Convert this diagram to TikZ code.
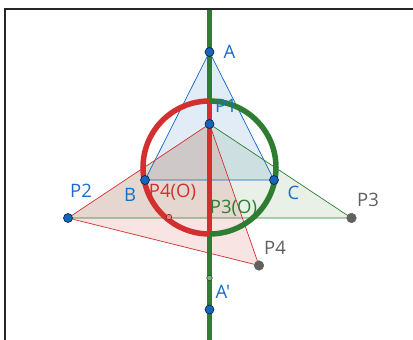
\documentclass[tikz,border=0pt]{standalone}
\usepackage{fontspec}
\setmainfont{Open Sans}
\newfontfamily\lblfont{Open Sans}
\definecolor{gblue}{RGB}{21,101,192}
\definecolor{gbluetext}{RGB}{25,110,200}
\definecolor{gred}{RGB}{211,47,47}
\definecolor{ggreen}{RGB}{46,125,50}
\definecolor{ggray}{RGB}{97,97,97}
\begin{document}
\begin{tikzpicture}[x=1pt,y=-1pt,
  ptblue/.style={circle,fill=gblue,draw=black!70!gblue,line width=0.6pt,inner sep=0pt,minimum size=9pt},
  ptgray/.style={circle,fill=ggray,draw=black!60,line width=0.6pt,inner sep=0pt,minimum size=9.5pt},
  ptsmall/.style={circle,draw=#1!70!black,fill=#1!60!white,line width=0.6pt,inner sep=0pt,minimum size=5.5pt},
  lbl/.style={font=\lblfont\fontsize{18.5}{18.5}\selectfont,inner sep=0pt,text=#1},
  edge/.style={line width=0.7pt,draw=#1}]
\useasboundingbox (0,0) rectangle (413,340);
\fill[white] (0,0) rectangle (413,340);
% points as coordinates
\coordinate (A) at (209.5,52);
\coordinate (P1) at (209.5,124);
\coordinate (B) at (145,180);
\coordinate (C) at (274,180);
\coordinate (P2) at (68,218);
\coordinate (P3) at (351.5,218);
\coordinate (P4) at (259,265.5);
\coordinate (Ap) at (209.5,309.5);
\coordinate (O) at (209.5,167.5);
\coordinate (Ctop) at (209.5,101);
\coordinate (Cbot) at (209.5,234);
\coordinate (Ltop) at (209.5,9);
\coordinate (Lbot) at (209.5,340);
% fills
\fill[gblue,opacity=0.12] (A) -- (B) -- (C) -- cycle;
\fill[ggreen,opacity=0.11] (P1) -- (P2) -- (P3) -- cycle;
\fill[gred,opacity=0.13] (P1) -- (P2) -- (P4) -- cycle;
% edges
\draw[edge=gblue] (A) -- (B) -- (C) -- cycle;
\draw[edge=ggreen] (P1) -- (P3) -- (P2);
\draw[edge=gred] (P2) -- (P1) -- (P4) -- (P2);
% vertical line
\draw[ggreen,line width=5pt] (Ltop) -- (Lbot);
\draw[gred,line width=5pt] (Ctop) -- (Cbot);
% circle arcs
\draw[gred,line width=5.5pt] (Ctop) arc[start angle=-90,end angle=-270,radius=66.5];
\draw[ggreen,line width=5.5pt] (Ctop) arc[start angle=-90,end angle=90,radius=66.5];
% small points
\node[ptsmall=gred] (S1) at (169,217) {};
\node[ptsmall=ggreen] (S2) at (209.5,278) {};
% main points
\node[ptblue] (nA) at (A) {};
\node[ptblue] (nP1) at (P1) {};
\node[ptblue] (nB) at (B) {};
\node[ptblue] (nC) at (C) {};
\node[ptblue] (nP2) at (P2) {};
\node[ptblue] (nAp) at (Ap) {};
\node[ptgray] (nP3) at (P3) {};
\node[ptgray] (nP4) at (P4) {};
% labels
\node[lbl=gbluetext] (tA) at (229.5,52) {A};
\node[lbl=gbluetext] (tP1) at (226,106) {P1};
\node[lbl=gbluetext] (tB) at (130,195) {B};
\node[lbl=gbluetext] (tC) at (293.5,193) {C};
\node[lbl=gbluetext] (tP2) at (81,190.5) {P2};
\node[lbl=gbluetext] (tAp) at (223,292) {A'};
\node[lbl=ggray] (tP3) at (368,200) {P3};
\node[lbl=ggray] (tP4) at (275,248) {P4};
\node[lbl=gred] (tP4O) at (172.5,192) {P4(O)};
\node[lbl=ggreen] (tP3O) at (233.5,208) {P3(O)};
% frame
\draw[black!85,line width=2pt] (413,9) -- (5,9) -- (5,340);
\end{tikzpicture}
\end{document}
